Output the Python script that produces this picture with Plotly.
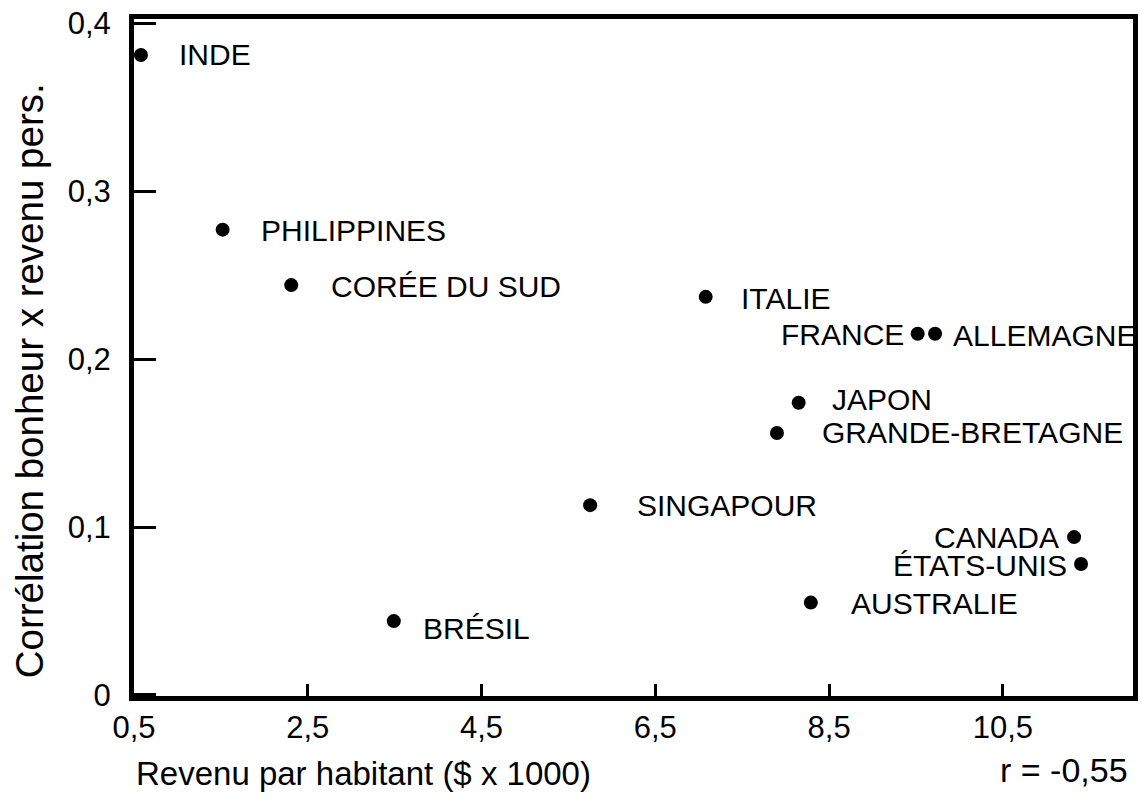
import plotly.graph_objects as go

# ---- data ----
countries = ["INDE", "PHILIPPINES", "CORÉE DU SUD", "ITALIE", "FRANCE", "ALLEMAGNE",
             "JAPON", "GRANDE-BRETAGNE", "SINGAPOUR", "CANADA", "ÉTATS-UNIS",
             "AUSTRALIE", "BRÉSIL"]
revenu = [0.58, 1.52, 2.31, 7.08, 9.52, 9.72, 8.15, 7.90, 5.75, 11.32, 11.40, 8.29, 3.49]
correlation = [0.381, 0.277, 0.244, 0.237, 0.215, 0.215, 0.174, 0.156, 0.113, 0.094, 0.078, 0.055, 0.044]

x_tick_vals = [0.5, 2.5, 4.5, 6.5, 8.5, 10.5]
x_tick_text = ["0,5", "2,5", "4,5", "6,5", "8,5", "10,5"]
y_tick_vals = [0, 0.1, 0.2, 0.3, 0.4]
y_tick_text = ["0", "0,1", "0,2", "0,3", "0,4"]

x_title = "Revenu par habitant ($ x 1000)"
y_title = "Corrélation bonheur x revenu pers."
r_text = "r = -0,55"

# ---- label styling (side, horizontal shift px, vertical shift px) ----
label_side = ["right", "right", "right", "right", "left", "right",
              "right", "right", "right", "left", "left", "right", "right"]
label_dx = [36, 36, 38, 33, -12, 16, 31, 43, 45, -13, -12, 38, 27]
label_dy = [0, -1, -1, -2, -1, -2, 3, 0, 0, 0, -2, -1, -7]

FONT = "Liberation Sans, Arial, Helvetica, sans-serif"

fig = go.Figure()
fig.add_trace(go.Scatter(
    x=revenu, y=correlation, mode="markers",
    marker=dict(color="black", size=14),
    hoverinfo="skip", showlegend=False,
))

for name, xv, yv, side, dx, dy in zip(countries, revenu, correlation, label_side, label_dx, label_dy):
    fig.add_annotation(
        x=xv, y=yv, xref="x", yref="y", text=name, showarrow=False,
        xanchor="left" if side == "right" else "right", yanchor="middle",
        xshift=dx, yshift=dy,
        font=dict(family=FONT, size=30, color="black"),
    )

fig.add_annotation(x=0, xref="paper", y=-0.115, yref="paper", text=x_title,
                   showarrow=False, xanchor="left", yanchor="middle",
                   font=dict(family=FONT, size=33, color="black"))
fig.add_annotation(x=0.997, xref="paper", y=-0.11, yref="paper", text=r_text,
                   showarrow=False, xanchor="right", yanchor="middle",
                   font=dict(family=FONT, size=34, color="black"))
fig.add_annotation(x=-0.105, xref="paper", y=0.465, yref="paper", text=y_title,
                   showarrow=False, textangle=-90, xanchor="center", yanchor="middle",
                   font=dict(family=FONT, size=38.5, color="black"))

fig.update_xaxes(
    range=[0.5, 11.998], tickvals=x_tick_vals, ticktext=x_tick_text,
    ticks="inside", ticklen=12, tickwidth=3, tickcolor="black",
    showline=True, linewidth=5, linecolor="black", mirror=True,
    showgrid=False, zeroline=False, automargin=False,
    tickfont=dict(family=FONT, size=31, color="black"),
    ticklabelstandoff=0,
)
fig.update_yaxes(
    range=[-0.0006, 0.4024], tickvals=y_tick_vals, ticktext=y_tick_text,
    ticks="inside", ticklen=22, tickwidth=3, tickcolor="black",
    showline=True, linewidth=5, linecolor="black", mirror=True,
    showgrid=False, zeroline=False, automargin=False,
    tickfont=dict(family=FONT, size=31, color="black"),
    ticklabelstandoff=12,
)

fig.update_layout(
    template="none",
    width=1142, height=803,
    margin=dict(l=133.5, r=9, t=19, b=107, autoexpand=False),
    paper_bgcolor="white", plot_bgcolor="white",
)

fig.write_html(
    "out.html",
    config={"displayModeBar": False},
    post_script="document.body.style.margin='0';document.body.style.overflow='hidden';",
)
